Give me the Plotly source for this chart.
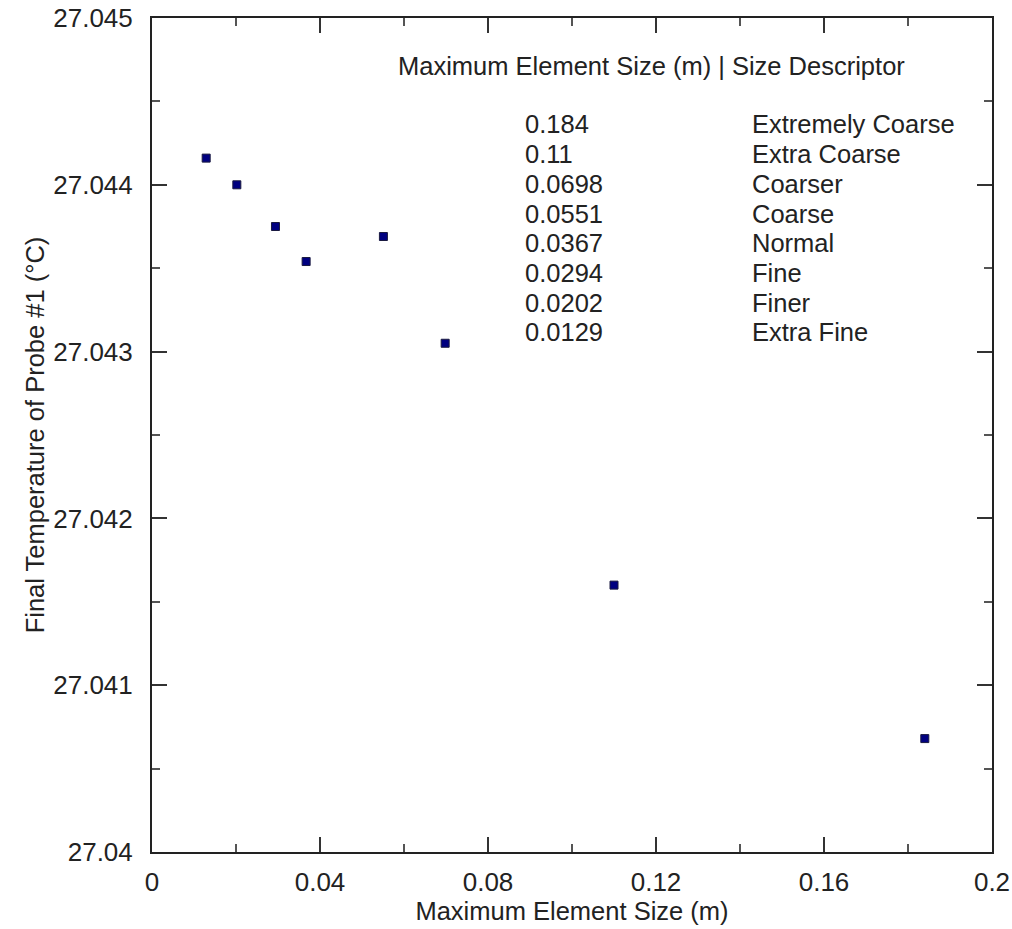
import plotly.graph_objects as go

# ---- data ----
max_size = [0.184, 0.11, 0.0698, 0.0551, 0.0367, 0.0294, 0.0202, 0.0129]
size_labels = ["0.184", "0.11", "0.0698", "0.0551", "0.0367", "0.0294", "0.0202", "0.0129"]
descriptors = ["Extremely Coarse", "Extra Coarse", "Coarser", "Coarse",
               "Normal", "Fine", "Finer", "Extra Fine"]
final_temp = [27.04068, 27.04160, 27.04305, 27.04369, 27.04354, 27.04375, 27.04400, 27.04416]

x_tickvals = [0, 0.04, 0.08, 0.12, 0.16, 0.2]
x_ticktext = ["0", "0.04", "0.08", "0.12", "0.16", "0.2"]
y_tickvals = [27.040, 27.041, 27.042, 27.043, 27.044, 27.045]
y_ticktext = ["27.04", "27.041", "27.042", "27.043", "27.044", "27.045"]

header_text = "Maximum Element Size (m) | Size Descriptor"
x_title = "Maximum Element Size (m)"
y_title = "Final Temperature of Probe #1 (°C)"

# ---- layout constants ----
W, H = 1012, 929
ML, MR, MT, MB = 152, 20, 18, 77
FONT = "Liberation Sans, Arial, sans-serif"
FS = 25.5
FS_TICK = 26
TXT = "#222222"

def px_to_paper_y(py):
    return 1 - (py - MT) / (H - MT - MB)

def px_to_paper_x(px):
    return (px - ML) / (W - ML - MR)

fig = go.Figure()
fig.add_trace(go.Scatter(
    x=max_size, y=final_temp, mode="markers",
    marker=dict(symbol="square", size=8, color="#000080",
                line=dict(color="#1a1a40", width=1)),
    showlegend=False,
))

annotations = []
annotations.append(dict(text=header_text, xref="paper", yref="paper",
                        x=px_to_paper_x(396), y=px_to_paper_y(66),
                        xanchor="left", yanchor="middle", showarrow=False,
                        font=dict(family=FONT, size=FS, color=TXT)))
row0, dy = 124.5, 29.7
for i, (s, d) in enumerate(zip(size_labels, descriptors)):
    yy = px_to_paper_y(row0 + i * dy)
    annotations.append(dict(text=s, xref="paper", yref="paper",
                            x=px_to_paper_x(523), y=yy, xanchor="left", yanchor="middle",
                            showarrow=False, font=dict(family=FONT, size=FS, color=TXT)))
    annotations.append(dict(text=d, xref="paper", yref="paper",
                            x=px_to_paper_x(750), y=yy, xanchor="left", yanchor="middle",
                            showarrow=False, font=dict(family=FONT, size=FS, color=TXT)))

axis_common = dict(
    showline=True, linecolor="#222222", linewidth=2, mirror="allticks",
    ticks="inside", ticklen=15, tickwidth=2, tickcolor="#333333",
    showgrid=False, zeroline=False, automargin=False,
    tickfont=dict(family=FONT, size=FS_TICK, color=TXT),
)

fig.update_layout(
    width=W, height=H,
    margin=dict(l=ML, r=MR, t=MT, b=MB),
    paper_bgcolor="white", plot_bgcolor="white",
    annotations=annotations,
    xaxis=dict(range=[0, 0.2], tickvals=x_tickvals, ticktext=x_ticktext,
               title=dict(text=x_title, font=dict(family=FONT, size=FS, color=TXT), standoff=4),
               minor=dict(ticks="inside", ticklen=8, tickwidth=2, tickcolor="#555555", dtick=0.02, tick0=0),
               ticklabelstandoff=6,
               **axis_common),
    yaxis=dict(range=[27.040, 27.045], tickvals=y_tickvals, ticktext=y_ticktext,
               title=dict(text=y_title, font=dict(family=FONT, size=FS, color=TXT), standoff=1),
               minor=dict(ticks="inside", ticklen=8, tickwidth=2, tickcolor="#555555", dtick=0.0005, tick0=27.04),
               ticklabelstandoff=12,
               **axis_common),
)

fig.write_html("out.html")
